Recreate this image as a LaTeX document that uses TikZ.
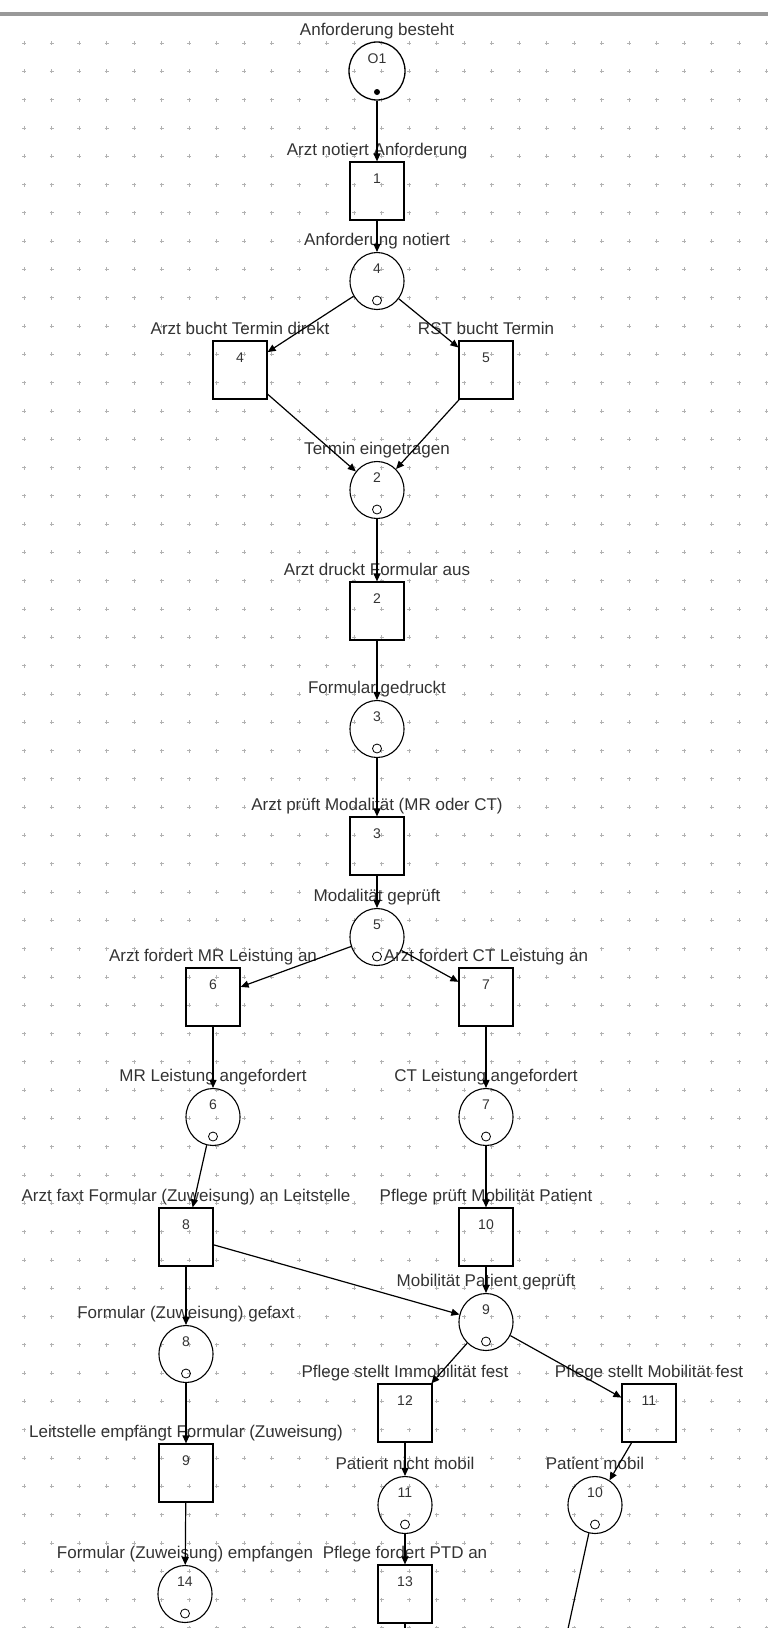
\documentclass[tikz,border=0pt]{standalone}
\usepackage{fontspec}
\setmainfont{Liberation Sans}
\usetikzlibrary{arrows.meta, shapes.geometric}
\colorlet{gridgray}{black!30}
\colorlet{labelgray}{black!80}
\colorlet{rulergray}{black!40}

\begin{document}
\begin{tikzpicture}[
    x=1pt, y=-1pt,
    label distance=1pt,
    place/.style={
        ellipse, draw, line width=1.1pt,
        minimum width=54pt, minimum height=57pt, inner sep=0pt,
        path picture={\draw[line width=0.8pt]
            ([yshift=9pt]path picture bounding box.south) circle (4.5pt);}
    },
    startplace/.style={
        ellipse, draw, line width=1.3pt,
        minimum width=56pt, minimum height=58pt, inner sep=0pt,
        path picture={\fill
            ([yshift=8pt]path picture bounding box.south) circle (3pt);}
    },
    trans/.style={
        rectangle, draw, line width=1.2pt,
        minimum width=54pt, minimum height=58pt, inner sep=0pt
    },
    tag/.style={
        font=\fontsize{17}{17}\selectfont, text=labelgray,
        text height=12pt, text depth=4pt, inner sep=1pt
    },
    num/.style={
        font=\fontsize{14}{14}\selectfont, text=labelgray,
        anchor=north, yshift=-13pt, inner sep=0pt
    },
    arc/.style={
        line width=1.2pt, -{Triangle[length=8pt, width=7pt]}
    },
    gridmark/.style={gridgray, line width=0.8pt}
]

\useasboundingbox (0,0) rectangle (768,1628);
\clip (0,0) rectangle (768,1628);

% ===== Sheet =====
\foreach \gx in {0,...,27}
    \foreach \gy in {0,...,56}
        \draw[gridmark] (24+27.5*\gx-2,43+28.3*\gy) -- ++(4,0)
            (24+27.5*\gx,43+28.3*\gy-2) -- ++(0,4);
\draw[rulergray, line width=3.5pt] (0,14) -- (768,14);

% ===== Places =====
\node[startplace, label={[tag]above:Anforderung besteht}, label={[num]north:O1}] (pO1) at (377,71) {};
\node[place, label={[tag]above:Anforderung notiert}, label={[num]north:4}] (p4) at (377,281) {};
\node[place, label={[tag]above:Termin eingetragen}, label={[num]north:2}] (p2) at (377,490) {};
\node[place, label={[tag]above:Formular gedruckt}, label={[num]north:3}] (p3) at (377,729) {};
\node[place, label={[tag]above:Modalität geprüft}, label={[num]north:5}] (p5) at (377,937) {};
\node[place, label={[tag]above:MR Leistung angefordert}, label={[num]north:6}] (p6) at (213,1117) {};
\node[place, label={[tag]above:CT Leistung angefordert}, label={[num]north:7}] (p7) at (486,1117) {};
\node[place, label={[tag]above:Mobilität Patient geprüft}, label={[num]north:9}] (p9) at (486,1322) {};
\node[place, label={[tag]above:{Formular (Zuweisung) gefaxt}}, label={[num]north:8}] (p8) at (186,1354) {};
\node[place, label={[tag]above:Patient nicht mobil}, label={[num]north:11}] (p11) at (405,1505) {};
\node[place, label={[tag]above:Patient mobil}, label={[num]north:10}] (p10) at (595,1505) {};
\node[place, label={[tag]above:{Formular (Zuweisung) empfangen}}, label={[num]north:14}] (p14) at (185,1594) {};

% ===== Transitions =====
\node[trans, label={[tag]above:Arzt notiert Anforderung}, label={[num]north:1}] (t1) at (377,191) {};
\node[trans, label={[tag]above:Arzt bucht Termin direkt}, label={[num]north:4}] (t4) at (240,370) {};
\node[trans, label={[tag]above:RST bucht Termin}, label={[num]north:5}] (t5) at (486,370) {};
\node[trans, label={[tag]above:Arzt druckt Formular aus}, label={[num]north:2}] (t2) at (377,611) {};
\node[trans, label={[tag]above:{Arzt prüft Modalität (MR oder CT)}}, label={[num]north:3}] (t3) at (377,846) {};
\node[trans, label={[tag]above:Arzt fordert MR Leistung an}, label={[num]north:6}] (t6) at (213,997) {};
\node[trans, label={[tag]above:Arzt fordert CT Leistung an}, label={[num]north:7}] (t7) at (486,997) {};
\node[trans, label={[tag]above:{Arzt faxt Formular (Zuweisung) an Leitstelle}}, label={[num]north:8}] (t8) at (186,1237) {};
\node[trans, label={[tag]above:Pflege prüft Mobilität Patient}, label={[num]north:10}] (t10) at (486,1237) {};
\node[trans, label={[tag]above:Pflege stellt Immobilität fest}, label={[num]north:12}] (t12) at (405,1413) {};
\node[trans, label={[tag]above:Pflege stellt Mobilität fest}, label={[num]north:11}] (t11) at (649,1413) {};
\node[trans, label={[tag]above:{Leitstelle empfängt Formular (Zuweisung)}}, label={[num]north:9}] (t9) at (186,1473) {};
\node[trans, label={[tag]above:Pflege fordert PTD an}, label={[num]north:13}] (t13) at (405,1594) {};

% arcs running off the sheet
\coordinate (p10out) at (559,1670);
\coordinate (t13out) at (405,1660);

% ===== Arcs =====
\draw[arc] (pO1) -- (t1);
\draw[arc] (t1) -- (p4);
\draw[arc] (p4) -- (t4);
\draw[arc] (p4) -- (t5);
\draw[arc] (t4) -- (p2);
\draw[arc] (t5) -- (p2);
\draw[arc] (p2) -- (t2);
\draw[arc] (t2) -- (p3);
\draw[arc] (p3) -- (t3);
\draw[arc] (t3) -- (p5);
\draw[arc] (p5) -- (t6);
\draw[arc] (p5) -- (t7);
\draw[arc] (t6) -- (p6);
\draw[arc] (t7) -- (p7);
\draw[arc] (p6) -- (t8);
\draw[arc] (p7) -- (t10);
\draw[arc] (t8) -- (p9);
\draw[arc] (t10) -- (p9);
\draw[arc] (t8) -- (p8);
\draw[arc] (p9) -- (t12);
\draw[arc] (p9) -- (t11);
\draw[arc] (p8) -- (t9);
\draw[arc] (t12) -- (p11);
\draw[arc] (t11) -- (p10);
\draw[arc] (t9) -- (p14);
\draw[arc] (p11) -- (t13);
\draw[arc] (p10) -- (p10out);
\draw[arc] (t13) -- (t13out);

\end{tikzpicture}
\end{document}
